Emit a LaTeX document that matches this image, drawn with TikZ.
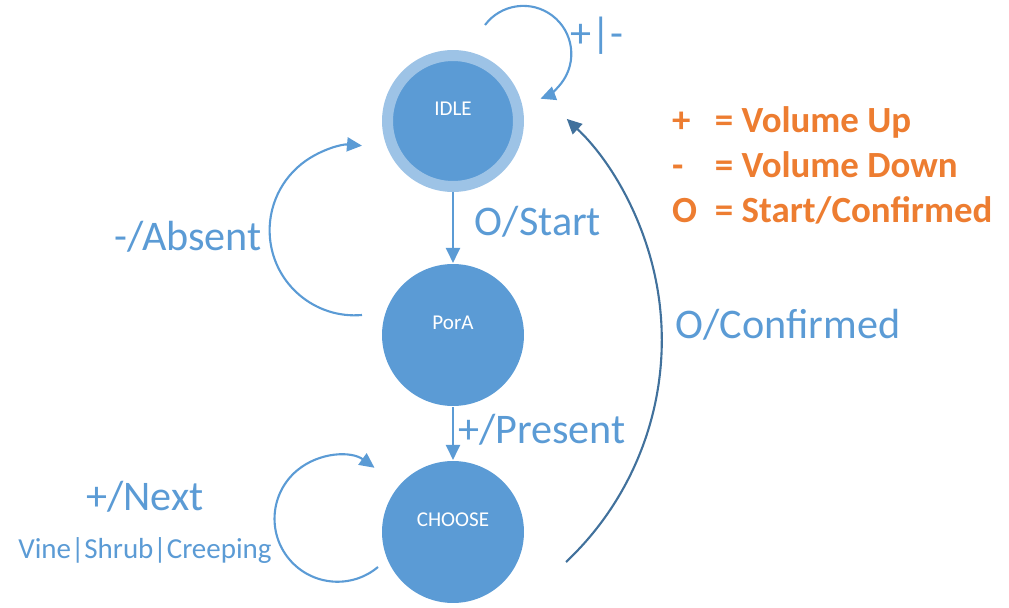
\documentclass[tikz,border=0pt]{standalone}
\usepackage{fontspec}
\setmainfont{Carlito}
\usepackage{xcolor}
\usepackage{tikz}
\usetikzlibrary{arrows.meta}
\usetikzlibrary{positioning}

\definecolor{stateblue}{HTML}{5B9BD5}
\definecolor{ringblue}{HTML}{9DC3E6}
\definecolor{darkblue}{HTML}{41719C}
\definecolor{keyorange}{HTML}{ED7D31}

\newcommand{\keysym}[1]{\makebox[24.4pt][l]{#1}}

\begin{document}
\begin{tikzpicture}[
	x=0.02cm, y=-0.02cm,
	line width=1.2pt,
	>={Triangle[length=0.3cm,width=0.28cm]}
]
\tikzset{
    state/.style = {circle, fill=stateblue, inner sep=0pt, minimum size=2.84cm},
    statetext/.style = {text=white, font=\fontsize{12}{14}\selectfont, yshift=0.24cm},
    trans/.style = {draw=stateblue, ->},
    translabel/.style = {text=stateblue, font=\fontsize{24}{28}\selectfont},
    keytext/.style = {text=keyorange, anchor=west, inner sep=0pt, font=\fontsize{21}{25}\selectfont\bfseries}
}
\useasboundingbox (0,0) rectangle (1009,608);
% states
\node[state, draw=ringblue, line width=0.22cm, minimum size=2.62cm,
      label={[statetext]center:IDLE}] (idle) at (453,121) {};
\node[state, label={[statetext]center:PorA}] (pora) at (453,335) {};
\node[state, label={[statetext]center:CHOOSE}] (choose) at (453,532) {};
% transitions
\draw[trans] (idle) -- (pora);
\draw[trans] (pora) -- (choose);
\coordinate (idleloop) at (485,25);
\draw[trans] (idleloop) arc[start angle=143, end angle=-69, radius=0.96cm];
\coordinate (absentloop) at (362,315);
\draw[trans] (absentloop) arc[start angle=275, end angle=85, radius=1.7cm];
\coordinate (nextloop) at (378,567);
\draw[trans] (nextloop) arc[start angle=310, end angle=54, radius=1.26cm];
\coordinate (confstart) at (566,562);
\draw[draw=darkblue, ->] (confstart) arc[start angle=-46.7, end angle=46.5, radius=6.1cm];
% labels
\node[translabel] (lvol) at (597,36) {+|-};
\node[translabel] (lstart) at (538,222) {O/Start};
\node[translabel] (labsent) at (188,237) {-/Absent};
\node[translabel] (lconf) at (788,325) {O/Confirmed};
\node[translabel] (lpresent) at (542,430) {+/Present};
\node[translabel] (lnext) at (145,497) {+/Next};
\node[translabel, font=\fontsize{16.5}{19}\selectfont] (lkind) at (145,551) {Vine|Shrub|Creeping};
% key
\node[keytext] (keyup) at (671,122) {\keysym{+}= Volume Up};
\node[keytext] (keydown) at (671,165) {\keysym{-}= Volume Down};
\node[keytext] (keyok) at (671,210) {\keysym{O}= Start/Confirmed};
\end{tikzpicture}
\end{document}
